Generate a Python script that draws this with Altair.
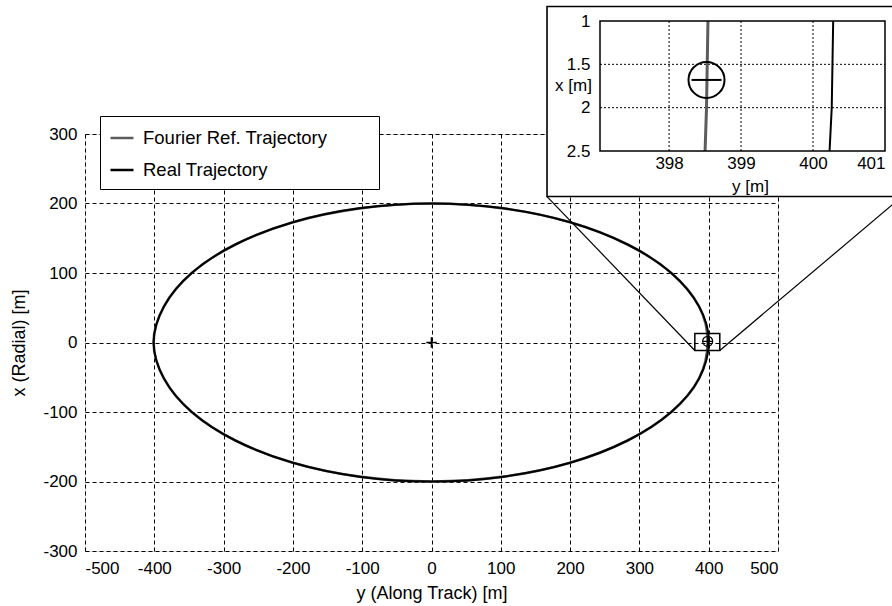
import altair as alt
import pandas as pd

FONT = "Liberation Sans"

# ---------------- data ----------------
SERIES = ["Fourier Ref. Trajectory", "Real Trajectory"]
SERIES_COLORS = ["#5c5c5c", "#000000"]

# closed relative-motion ellipse, y (along track) / x (radial) [m]
ref_along = [398.5, 386, 346, 283, 200, 104, 0, -104, -200, -283, -346, -386,
             -401, -386, -346, -283, -200, -104, 0, 104, 200, 283, 346, 386]
real_along = [400.3, 386, 346, 283, 200, 104, 0, -104, -200, -283, -346, -386,
              -401, -386, -346, -283, -200, -104, 0, 104, 200, 283, 346, 386]
ell_radial = [1.7, 52, 100, 141, 173, 193, 200, 193, 173, 141, 100, 52,
              0, -52, -100, -141, -173, -193, -200, -193, -173, -141, -100, -52]

X_TICKS = [-500, -400, -300, -200, -100, 0, 100, 200, 300, 400, 500]
Y_TICKS = [-300, -200, -100, 0, 100, 200, 300]

origin = {"along": [0], "radial": [0]}
target_along = [398.5]
target_radial = [1.7]
zoom_box_along = [380, 416]
zoom_box_radial = [-11.5, 13]
inset_frame_along = [166.7, 679]
inset_frame_radial = [210, 483.5]

# inset (zoomed) view
INSET_ALONG_DOMAIN = [397.04, 401]
INSET_RADIAL_DOMAIN = [1, 2.5]
INSET_ALONG_TICKS = [398, 399, 400, 401]
INSET_RADIAL_TICKS = [1, 1.5, 2, 2.5]
inset_radial = [1.0, 1.5, 2.0, 2.5]
inset_ref_along = [398.54, 398.53, 398.52, 398.50]
inset_real_along = [400.28, 400.27, 400.26, 400.23]
inset_target_along = [398.52]
inset_target_radial = [1.68]

# ---------------- main view ----------------
xs = alt.Scale(domain=[-500, 500], nice=False, zero=False)
ys = alt.Scale(domain=[-300, 300], nice=False, zero=False)
cscale = alt.Scale(domain=SERIES, range=SERIES_COLORS)

common_axis = dict(grid=True, gridColor="black", gridDash=[4, 3], gridWidth=1, gridOpacity=1,
                   domain=False, ticks=False, labelFont=FONT, titleFont=FONT,
                   labelColor="black", titleColor="black", titleFontWeight="normal",
                   labelExpr="datum.value + ''")
x_axis = alt.Axis(values=X_TICKS, title="y (Along Track) [m]", labelFontSize=17, titleFontSize=18,
                  labelPadding=9, titlePadding=8, **common_axis)
y_axis = alt.Axis(values=Y_TICKS, title="x (Radial) [m]", labelFontSize=17, titleFontSize=18,
                  labelPadding=8, titlePadding=14, **common_axis)

FILL = "\u2800" * 3
legend = alt.Legend(title=None, orient="none", legendX=15, legendY=-18, fillColor="white",
                    strokeColor="black", padding=9, symbolType="stroke", symbolStrokeWidth=2.5,
                    symbolSize=529, labelFontSize=18.5, labelFont=FONT, labelColor="black",
                    labelOffset=8, rowPadding=9, labelLimit=500, zindex=1,
                    labelExpr="datum.label + '" + FILL + "'")

n = len(ell_radial)
ref_df = pd.DataFrame({"along": ref_along, "radial": ell_radial, "series": SERIES[0], "i": range(n)})
real_df = pd.DataFrame({"along": real_along, "radial": ell_radial, "series": SERIES[1], "i": range(n)})


def xy(xf="along:Q", yf="radial:Q"):
    return dict(x=alt.X(xf, scale=xs, axis=x_axis), y=alt.Y(yf, scale=ys, axis=y_axis))


ref_line = alt.Chart(ref_df).mark_line(interpolate="cardinal-closed", strokeWidth=2.6).encode(
    **xy(), color=alt.Color("series:N", scale=cscale, legend=legend), order="i:Q")
real_line = alt.Chart(real_df).mark_line(interpolate="cardinal-closed", strokeWidth=2).encode(
    **xy(), color=alt.Color("series:N", scale=cscale, legend=legend), order="i:Q")

PLUS = "M-1,0L1,0M0,-1L0,1"
origin_mark = alt.Chart(pd.DataFrame(origin)).mark_point(
    shape=PLUS, size=110, color="black", strokeWidth=1.6, filled=False, opacity=1).encode(**xy())

zoom_df = pd.DataFrame({"along": [zoom_box_along[0]], "along2": [zoom_box_along[1]],
                        "radial": [zoom_box_radial[0]], "radial2": [zoom_box_radial[1]]})
zoom_rect = alt.Chart(zoom_df).mark_rect(fill="transparent", stroke="black", strokeWidth=1.5).encode(
    **xy(), x2="along2:Q", y2="radial2:Q")

tgt_df = pd.DataFrame({"along": target_along, "radial": target_radial})
tgt_circle = alt.Chart(tgt_df).mark_point(shape="circle", size=100, color="black", strokeWidth=1.2,
                                          filled=False, opacity=1).encode(**xy())
tgt_plus = alt.Chart(tgt_df).mark_point(shape=PLUS, size=100, color="black", strokeWidth=1.2,
                                        filled=False, opacity=1).encode(**xy())

conn_df = pd.DataFrame({
    "along": zoom_box_along, "radial": [zoom_box_radial[0]] * 2,
    "along2": inset_frame_along, "radial2": [inset_frame_radial[0]] * 2})
connectors = alt.Chart(conn_df).mark_rule(color="black", strokeWidth=1.2).encode(
    **xy(), x2="along2:Q", y2="radial2:Q")

frame_df = pd.DataFrame({"along": [inset_frame_along[0]], "along2": [inset_frame_along[1]],
                         "radial": [inset_frame_radial[0]], "radial2": [inset_frame_radial[1]]})
inset_frame = alt.Chart(frame_df).mark_rect(fill="white", stroke="black", strokeWidth=1.6).encode(
    **xy(), x2="along2:Q", y2="radial2:Q")

main = alt.layer(ref_line, real_line, origin_mark, zoom_rect, tgt_circle, tgt_plus,
                 connectors, inset_frame)

# ---------------- inset view ----------------
ixs = alt.Scale(domain=INSET_ALONG_DOMAIN, range=[515, 800], nice=False, zero=False)
iys = alt.Scale(domain=INSET_RADIAL_DOMAIN, range=[-113, 17], nice=False, zero=False)
inset_common = dict(grid=False, domain=False, ticks=False, labelFont=FONT, titleFont=FONT,
                    labelColor="black", titleColor="black", titleFontWeight="normal",
                    labelFontSize=17, titleFontSize=17, zindex=1, format="~g")
ix_axis = alt.Axis(orient="bottom", offset=-400, values=INSET_ALONG_TICKS, labelPadding=4,
                   title="y [m]", titleX=665, titleY=35, titleAlign="center",
                   titleBaseline="middle", **inset_common)
iy_axis = alt.Axis(orient="left", offset=-515, values=INSET_RADIAL_TICKS, labelPadding=10,
                   title="x [m]", titleAngle=0, titleX=-27, titleY=-49, titleAlign="center",
                   titleBaseline="middle", **inset_common)


def ixy(xf="along:Q", yf="radial:Q"):
    return dict(x=alt.X(xf, scale=ixs, axis=ix_axis), y=alt.Y(yf, scale=iys, axis=iy_axis))


vgrid_df = pd.DataFrame({"along": INSET_ALONG_TICKS[:-1],
                         "radial": [INSET_RADIAL_DOMAIN[0]] * 3,
                         "radial2": [INSET_RADIAL_DOMAIN[1]] * 3})
hgrid_df = pd.DataFrame({"radial": INSET_RADIAL_TICKS[1:3],
                         "along": [INSET_ALONG_DOMAIN[0]] * 2,
                         "along2": [INSET_ALONG_DOMAIN[1]] * 2})
vgrid = alt.Chart(vgrid_df).mark_rule(color="black", strokeDash=[2, 2], strokeWidth=1).encode(
    **ixy(), y2="radial2:Q")
hgrid = alt.Chart(hgrid_df).mark_rule(color="black", strokeDash=[2, 2], strokeWidth=1).encode(
    **ixy(), x2="along2:Q")

iref_df = pd.DataFrame({"along": inset_ref_along, "radial": inset_radial})
ireal_df = pd.DataFrame({"along": inset_real_along, "radial": inset_radial})
iref = alt.Chart(iref_df).mark_line(color=SERIES_COLORS[0], strokeWidth=3).encode(
    **ixy(), order="radial:Q")
ireal = alt.Chart(ireal_df).mark_line(color=SERIES_COLORS[1], strokeWidth=2).encode(
    **ixy(), order="radial:Q")

itgt_df = pd.DataFrame({"along": inset_target_along, "radial": inset_target_radial})
itgt_circle = alt.Chart(itgt_df).mark_point(shape="circle", size=1296, color="black", strokeWidth=2,
                                            filled=False, opacity=1).encode(**ixy())
itgt_plus = alt.Chart(itgt_df).mark_point(shape="M-1,0L1,0", size=900, color="black", strokeWidth=2,
                                          filled=False, opacity=1).encode(**ixy())

iframe_df = pd.DataFrame({"along": [INSET_ALONG_DOMAIN[0]], "along2": [INSET_ALONG_DOMAIN[1]],
                          "radial": [INSET_RADIAL_DOMAIN[0]], "radial2": [INSET_RADIAL_DOMAIN[1]]})
iframe = alt.Chart(iframe_df).mark_rect(fill="transparent", stroke="black", strokeWidth=1.5).encode(
    **ixy(), x2="along2:Q", y2="radial2:Q")

inset = alt.layer(vgrid, hgrid, iref, ireal, itgt_circle, itgt_plus, iframe)

chart = alt.layer(main, inset).resolve_scale(x="independent", y="independent").properties(
    width=693, height=417,
    padding={"left": 85, "top": 134, "right": 114, "bottom": 55},
    autosize=alt.AutoSizeParams(type="none"),
    background="white",
).configure_view(stroke="black", strokeWidth=1.5).configure(font=FONT)

chart.save("out.html", embed_options={"renderer": "svg", "actions": False})
